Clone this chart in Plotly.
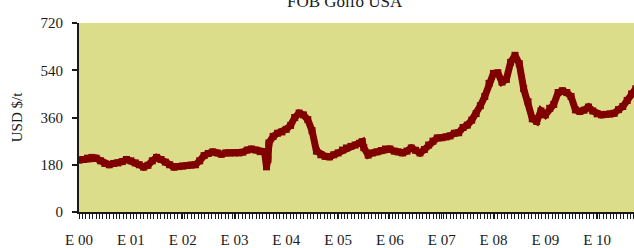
import plotly.graph_objects as go

# Monthly (plus a few intra-month) FOB Golfo USA prices, USD $/t
dates = [
    "2000-01-01","2000-02-01","2000-03-01","2000-04-01","2000-05-01","2000-06-01",
    "2000-07-01","2000-08-01","2000-09-01","2000-10-01","2000-11-01","2000-12-01",
    "2001-01-01","2001-02-01","2001-03-01","2001-04-01","2001-05-01","2001-06-01",
    "2001-07-01","2001-08-01","2001-09-01","2001-10-01","2001-11-01","2001-12-01",
    "2002-01-01","2002-02-01","2002-03-01","2002-04-01","2002-05-01","2002-06-01",
    "2002-07-01","2002-08-01","2002-09-01","2002-10-01","2002-11-01","2002-12-01",
    "2003-01-01","2003-02-01","2003-03-01","2003-04-01","2003-05-01","2003-06-01",
    "2003-07-01","2003-08-01","2003-08-15","2003-08-25","2003-09-01","2003-10-01",
    "2003-11-01","2003-12-01",
    "2004-01-01","2004-02-01","2004-03-01","2004-04-01","2004-05-01","2004-06-01",
    "2004-07-01","2004-08-01","2004-09-01","2004-10-01","2004-11-01","2004-12-01",
    "2005-01-01","2005-02-01","2005-03-01","2005-04-01","2005-05-01","2005-06-01",
    "2005-06-20","2005-07-01","2005-08-01","2005-09-01","2005-10-01","2005-11-01",
    "2005-12-01",
    "2006-01-01","2006-02-01","2006-03-01","2006-04-01","2006-05-01","2006-06-01",
    "2006-07-01","2006-08-01","2006-09-01","2006-10-01","2006-11-01","2006-12-01",
    "2007-01-01","2007-02-01","2007-03-01","2007-04-01","2007-05-01","2007-06-01",
    "2007-07-01","2007-08-01","2007-09-01","2007-10-01","2007-11-01","2007-12-01",
    "2008-01-01","2008-02-01","2008-03-01","2008-04-01","2008-05-01","2008-06-01",
    "2008-07-01","2008-08-01","2008-09-01","2008-10-01","2008-11-01","2008-12-01",
    "2009-01-01","2009-02-01","2009-03-01","2009-04-01","2009-05-01","2009-06-01",
    "2009-07-01","2009-08-01","2009-09-01","2009-10-01","2009-11-01","2009-12-01",
    "2010-01-01","2010-02-01","2010-03-01","2010-04-01","2010-05-01","2010-06-01",
    "2010-07-01","2010-08-01","2010-09-01","2010-10-01",
]
prices = [
    198, 200, 205, 208, 205, 195, 185, 180, 185, 187, 192, 200,
    195, 187, 180, 171, 178, 195, 208, 200, 190, 180, 171, 173,
    175, 177, 179, 180, 195, 215, 223, 229, 225, 220, 225, 225,
    225, 225, 228, 236, 240, 236, 230, 230, 172, 200, 263, 288,
    300, 305,
    315, 330, 360, 377, 370, 352, 310, 232, 218, 212, 210, 218,
    225, 236, 244, 250, 255, 262, 268, 245, 217, 225, 229, 234,
    240,
    240, 232, 229, 225, 232, 244, 235, 225, 238, 255, 270, 282,
    283, 286, 290, 300, 302, 322, 331, 350, 375, 405, 440, 490,
    528, 530, 495, 505, 570, 597, 565, 470, 420, 355, 345, 385,
    370, 395, 410, 455, 462, 455, 440, 389, 383, 388, 400, 385,
    374, 370, 372, 373, 376, 390, 402, 425, 450, 470,
]

year_ticks = ["2000-01-01","2001-01-01","2002-01-01","2003-01-01","2004-01-01",
              "2005-01-01","2006-01-01","2007-01-01","2008-01-01","2009-01-01",
              "2010-01-01"]
year_labels = ["E 00","E 01","E 02","E 03","E 04","E 05","E 06","E 07","E 08",
               "E 09","E 10"]
y_ticks = [0, 180, 360, 540, 720]

FONT = "Liberation Serif"
INK = "#1a1a1a"

fig = go.Figure()
fig.add_trace(go.Scatter(
    x=dates, y=prices, mode="lines+markers",
    line=dict(color="#800000", width=7),
    marker=dict(symbol="square", size=7, color="#800000"),
    hoverinfo="skip", showlegend=False,
))

fig.update_layout(
    width=634, height=248,
    margin=dict(l=79, r=0, t=23, b=36, autoexpand=False),
    paper_bgcolor="white",
    plot_bgcolor="#DCDD8A",
    font=dict(family=FONT, size=15, color=INK),
    annotations=[dict(
        text="FOB Golfo USA", xref="paper", yref="paper",
        x=0.479, y=1.116, xanchor="center", yanchor="middle",
        showarrow=False, font=dict(family=FONT, size=17, color=INK),
    )],
)
fig.update_xaxes(
    type="date", automargin=False,
    range=["2000-01-01", "2010-09-18"],
    tickvals=year_ticks, ticktext=year_labels,
    ticks="outside", ticklen=5, tickwidth=1, tickcolor=INK,
    ticklabelstandoff=8,
    minor=dict(ticks="outside", ticklen=5, tickwidth=1, tickcolor=INK,
               dtick=2073600000, tick0="2000-01-01", showgrid=False),
    showline=True, linecolor=INK, linewidth=2,
    showgrid=False, zeroline=False,
    tickfont=dict(family=FONT, size=15, color=INK),
)
fig.update_yaxes(
    automargin=False,
    range=[0, 720], tickvals=y_ticks,
    ticks="outside", ticklen=5, tickwidth=2, tickcolor=INK,
    ticklabelstandoff=6,
    showline=True, linecolor=INK, linewidth=2,
    showgrid=False, zeroline=False,
    title=dict(text="USD $/t", font=dict(family=FONT, size=15, color=INK), standoff=14),
    tickfont=dict(family=FONT, size=15, color=INK),
)

fig.write_html("out.html",
               config={"displayModeBar": False, "staticPlot": True},
               post_script="document.body.style.margin='0';document.body.style.overflow='hidden';")
